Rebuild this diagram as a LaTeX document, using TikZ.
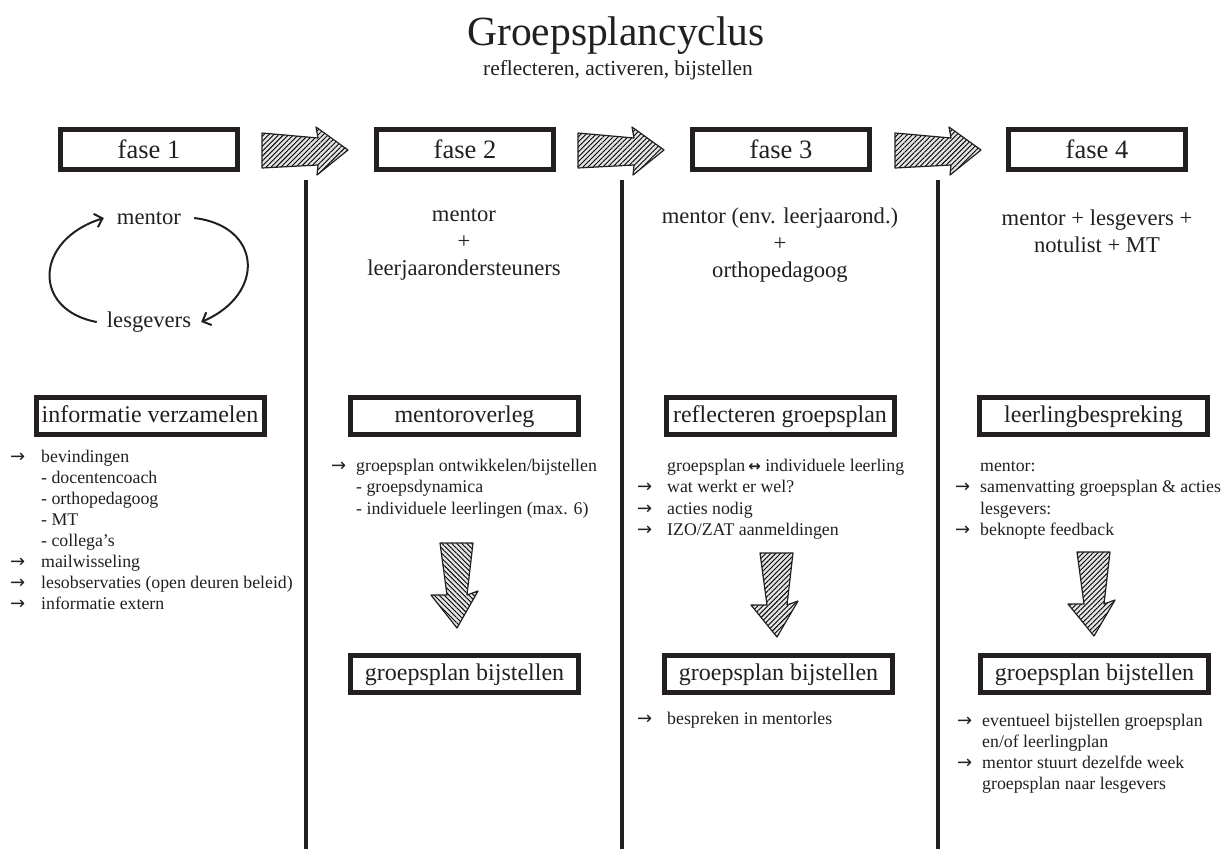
\documentclass[tikz,border=0pt]{standalone}
\usepackage{fontspec}
\setmainfont{Liberation Serif}
\newfontfamily\pijlfont{DejaVu Sans}
\usepackage{xcolor}
\usetikzlibrary{arrows.meta}
\usetikzlibrary{patterns.meta}
\definecolor{inkt}{RGB}{35,31,32}
\newcommand{\pijl}[1][16pt]{\llap{{\pijlfont\fontsize{18}{18}\selectfont →}\hspace{#1}}\ignorespaces}
\newcommand{\heen}{\,{\pijlfont\bfseries\fontsize{15}{18}\selectfont ↔}}
\tikzset{
    fasebox/.style={draw, line width=5pt, minimum width=177pt, minimum height=40pt,
        inner xsep=2pt, font=\fontsize{26.5}{30}\selectfont, text height=18pt, text depth=0pt},
    stapbox/.style={draw, line width=5pt, minimum width=228pt, minimum height=37pt,
        inner xsep=2pt, font=\fontsize{24}{28}\selectfont, text height=17pt, text depth=5pt},
    rol/.style={align=center, font=\fontsize{22.6}{27}\selectfont},
    punt/.style={anchor=base west, inner sep=0pt, font=\fontsize{17.8}{21}\selectfont},
    pijlvlak/.style={draw, line width=1.2pt, line join=round, preaction={fill=gray!22},
        pattern={Lines[angle=#1,distance=3.5pt,line width=0.9pt]}},
    pijlvlak/.default=45,
    kring/.style={line width=2pt, -{Straight Barb[length=7pt,width=14pt,line width=2pt]}},
}

\begin{document}
\begin{tikzpicture}[x=1pt, y=-1pt, color=inkt, text=inkt]
    \useasboundingbox (0,0) rectangle (1227,849);

    % titel
    \node[anchor=base, font=\fontsize{41.5}{48}\selectfont] (titel) at (616,45) {Groepsplancyclus};
    \node[anchor=base, font=\fontsize{21.4}{25}\selectfont] (ondertitel) at (618,75) {reflecteren, activeren, bijstellen};

    % fasen
    \node[fasebox] (fase1) at (149,149.5) {fase 1};
    \node[fasebox] (fase2) at (465,149.5) {fase 2};
    \node[fasebox] (fase3) at (781,149.5) {fase 3};
    \node[fasebox] (fase4) at (1097,149.5) {fase 4};

    \foreach \x in {262,578,895}
        \draw[pijlvlak, shift={(\x,0)}] (0,133) -- (56,138) -- (54,127) -- (86,150)
            -- (55,175) -- (56,165) -- (0,168) -- cycle;

    \foreach \x in {306,622,938}
        \draw[line width=4pt] (\x,180) -- (\x,849);

    % wie
    \node[rol, inner xsep=13pt] (mentorA) at (149,218) {mentor};
    \node[rol, inner xsep=10pt] (lesgeversA) at (149,322) {lesgevers};
    \draw[kring] (mentorA.east) .. controls (262,226) and (266,294) .. (lesgeversA.east);
    \draw[kring] (lesgeversA.west) .. controls (32,310) and (34,240) .. (mentorA.west);

    \node[rol] (rol2) at (464,245) {mentor\\+\\leerjaarondersteuners};
    \node[rol] (rol3) at (780,245) {mentor (env. leerjaarond.)\\+\\orthopedagoog};
    \node[rol] (rol4) at (1097,231) {mentor + lesgevers +\\notulist + MT};

    % stappen
    \node[stapbox] (stap1) at (150,416) {informatie verzamelen};
    \node[stapbox] (stap2) at (464.5,416) {mentoroverleg};
    \node[stapbox] (stap3) at (780,416) {reflecteren groepsplan};
    \node[stapbox] (stap4) at (1093.5,416) {leerlingbespreking};

    \foreach \t [count=\i] in {{\pijl bevindingen}, {- docentencoach}, {- orthopedagoog},
            {- MT}, {- collega’s}, {\pijl mailwisseling},
            {\pijl lesobservaties (open deuren beleid)}, {\pijl informatie extern}}
        \node[punt] (punt1-\i) at (41,{462+21*(\i-1)}) {\t};

    \foreach \t [count=\i] in {{\pijl[10pt] groepsplan ontwikkelen/bijstellen},
            {- groepsdynamica}, {- individuele leerlingen (max. 6)}}
        \node[punt] (punt2-\i) at (356,{471+21.5*(\i-1)}) {\t};

    \foreach \t [count=\i] in {{groepsplan\heen\ individuele leerling}, {\pijl[15pt] wat werkt er wel?},
            {\pijl[15pt] acties nodig}, {\pijl[15pt] IZO/ZAT aanmeldingen}}
        \node[punt] (punt3-\i) at (667,{471+21.5*(\i-1)}) {\t};

    \foreach \t [count=\i] in {{mentor:}, {\pijl[10pt] samenvatting groepsplan \& acties},
            {lesgevers:}, {\pijl[10pt] beknopte feedback}}
        \node[punt] (punt4-\i) at (980,{471+21.5*(\i-1)}) {\t};

    % naar bijstellen
    \draw[pijlvlak=-45, shift={(457,543)}] (-17,0) -- (16,0) -- (10,52) -- (21,48)
        -- (0,85) -- (-26,52) -- (-10,52) -- cycle;
    \foreach \cx/\ty in {777/553,1094/552}
        \draw[pijlvlak, shift={(\cx,\ty)}] (-17,0) -- (16,0) -- (10,52) -- (21,48)
            -- (0,84) -- (-26,52) -- (-10,52) -- cycle;

    \node[stapbox] (bij2) at (464.5,674) {groepsplan bijstellen};
    \node[stapbox] (bij3) at (778.5,674) {groepsplan bijstellen};
    \node[stapbox] (bij4) at (1094.5,674) {groepsplan bijstellen};

    \node[punt] (punt3-5) at (667,724) {\pijl[15pt] bespreken in mentorles};
    \foreach \t [count=\i] in {{\pijl[10pt] eventueel bijstellen groepsplan}, {en/of leerlingplan},
            {\pijl[10pt] mentor stuurt dezelfde week}, {groepsplan naar lesgevers}}
        \node[punt] (punt4-\the\numexpr\i+4\relax) at (982,{726+21.3*(\i-1)}) {\t};
\end{tikzpicture}
\end{document}
